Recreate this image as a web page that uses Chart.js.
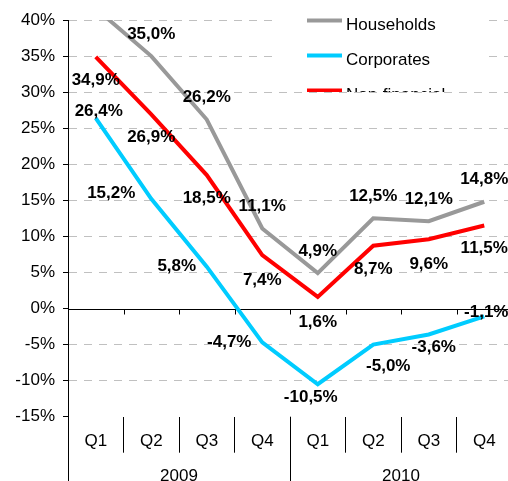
<!DOCTYPE html>
<html>
<head>
<meta charset="utf-8">
<script src="https://cdn.jsdelivr.net/npm/chart.js@4.4.1/dist/chart.umd.min.js"></script>
<style>
  html, body { margin: 0; padding: 0; background: #fff; overflow: hidden; }
  #wrap { width: 512px; height: 481px; }
</style>
</head>
<body>
<div id="wrap"><canvas id="myChart" width="512" height="481"></canvas></div>
<script>
// data
const quarters = ['Q1', 'Q2', 'Q3', 'Q4', 'Q1', 'Q2', 'Q3', 'Q4'];
const years = ['2009', '2010'];
const households = [41.6, 35.0, 26.2, 11.1, 4.9, 12.5, 12.1, 14.8];
const corporates = [26.4, 15.2, 5.8, -4.7, -10.5, -5.0, -3.6, -1.1];
const nonFinancial = [34.9, 26.9, 18.5, 7.4, 1.6, 8.7, 9.6, 11.5];

// where each value label sits relative to its point (px)
const labelShift = [
    [[0, -22], [0, -22], [0, -22], [0, -22], [0, -22], [0, -22], [0, -22], [0, -22]],
    [[3, -7], [-40, -6], [-30, 0], [-33, 0], [-7, 13], [15, 22], [5, 13], [2, -4]],
    [[0, 24], [0, 23], [0, 23], [0, 25], [0, 25], [0, 24], [0, 25], [0, 23]],
];

const FONT = '"Liberation Sans", Arial, sans-serif';
const fmt = v => v.toFixed(1).replace('.', ',') + '%';

const decor = {
    id: 'decor',
    beforeDatasetsDraw(chart) {
        const { ctx, chartArea } = chart;
        const x = chart.scales.x, y = chart.scales.y;
        const y0 = Math.round(y.getPixelForValue(0)) + 0.5;
        ctx.save();
        ctx.strokeStyle = '#000';
        ctx.lineWidth = 1;
        ctx.beginPath();
        ctx.moveTo(chartArea.left, y0);
        ctx.lineTo(chartArea.right, y0);
        for (let i = 1; i < quarters.length; i++) {
            const bx = Math.round((x.getPixelForValue(i - 1) + x.getPixelForValue(i)) / 2) + 0.5;
            ctx.moveTo(bx, y0);
            ctx.lineTo(bx, y0 + 5);
        }
        ctx.stroke();
        ctx.restore();
    },
    afterDatasetsDraw(chart) {
        const { ctx, chartArea } = chart;
        ctx.save();
        ctx.font = 'bold 17px ' + FONT;
        ctx.fillStyle = '#000';
        ctx.textAlign = 'center';
        ctx.textBaseline = 'middle';
        chart.data.datasets.forEach((ds, d) => {
            const meta = chart.getDatasetMeta(d);
            meta.data.forEach((pt, i) => {
                if (pt.y < chartArea.top) return;
                const s = labelShift[d][i];
                ctx.fillText(fmt(ds.data[i]), pt.x + s[0], pt.y + s[1]);
            });
        });
        ctx.restore();
    },
    afterDraw(chart) {
        const { ctx, chartArea } = chart;
        const x = chart.scales.x;
        const H = chart.height;
        ctx.save();
        // axis lines running down through the year row
        ctx.strokeStyle = '#000';
        ctx.lineWidth = 1;
        const yl = Math.round(chartArea.left) + 0.5;
        const ysep = Math.round((x.getPixelForValue(3) + x.getPixelForValue(4)) / 2) + 0.5;
        ctx.beginPath();
        ctx.moveTo(yl, chartArea.bottom);
        ctx.lineTo(yl, H);
        ctx.moveTo(ysep, chartArea.bottom);
        ctx.lineTo(ysep, H);
        ctx.stroke();

        // year labels
        ctx.font = '17px ' + FONT;
        ctx.fillStyle = '#000';
        ctx.textAlign = 'center';
        ctx.textBaseline = 'alphabetic';
        years.forEach((yr, k) => {
            const cx = (x.getPixelForValue(k * 4) + x.getPixelForValue(k * 4 + 3)) / 2;
            ctx.fillText(yr, cx, H - 0.5);
        });

        // legend sitting on the plot, cut off at its lower edge
        ctx.fillStyle = '#fff';
        ctx.fillRect(277, 0, 206, 92);
        ctx.beginPath();
        ctx.rect(277, 0, 206, 92);
        ctx.clip();
        chart.data.datasets.forEach((ds, d) => {
            const ly = 20.5 + d * 35;
            ctx.strokeStyle = ds.borderColor;
            ctx.lineWidth = 4;
            ctx.beginPath();
            ctx.moveTo(307, ly);
            ctx.lineTo(342, ly);
            ctx.stroke();
            ctx.fillStyle = '#000';
            ctx.textAlign = 'left';
            ctx.fillText(ds.label, 346, ly + 9);
        });
        ctx.restore();
    }
};

const ctx = document.getElementById('myChart');

new Chart(ctx, {
    type: 'line',
    data: {
        labels: quarters,
        datasets: [
            { label: 'Households', data: households, borderColor: '#999999' },
            { label: 'Corporates', data: corporates, borderColor: '#00CCFF' },
            { label: 'Non-financial', data: nonFinancial, borderColor: '#FF0000' },
        ]
    },
    options: {
        responsive: false,
        animation: false,
        devicePixelRatio: 1,
        layout: { padding: { top: 20, left: 0, right: 0, bottom: 0 } },
        elements: {
            line: { borderWidth: 4, tension: 0, borderJoinStyle: 'miter' },
            point: { radius: 0, hoverRadius: 0 }
        },
        plugins: {
            legend: { display: false },
            tooltip: { enabled: false }
        },
        scales: {
            x: {
                offset: true,
                grid: {
                    offset: true,
                    drawOnChartArea: false,
                    drawTicks: true,
                    tickLength: 36,
                    color: '#000',
                    tickColor: '#000'
                },
                border: { display: false },
                ticks: {
                    color: '#000',
                    padding: -22,
                    maxRotation: 0,
                    autoSkip: false,
                    font: { family: FONT, size: 17 }
                },
                afterFit: s => { s.height = 64.3; }
            },
            y: {
                min: -15,
                max: 40,
                ticks: {
                    stepSize: 5,
                    color: '#000',
                    padding: 8,
                    callback: v => v + '%',
                    font: { family: FONT, size: 17 }
                },
                grid: {
                    // dashed grey lines, none at 0 (drawn solid by the plugin) or at the bottom
                    color: c => (c.tick && (c.tick.value === 0 || c.tick.value === -15)) ? 'rgba(0,0,0,0)' : '#C0C0C0',
                    tickColor: '#000',
                    tickLength: 5,
                    lineWidth: 1
                },
                border: { display: true, color: '#000', width: 1, dash: [8, 7] },
                afterFit: s => { s.width = 68; }
            }
        }
    },
    plugins: [decor]
});
</script>
</body>
</html>
